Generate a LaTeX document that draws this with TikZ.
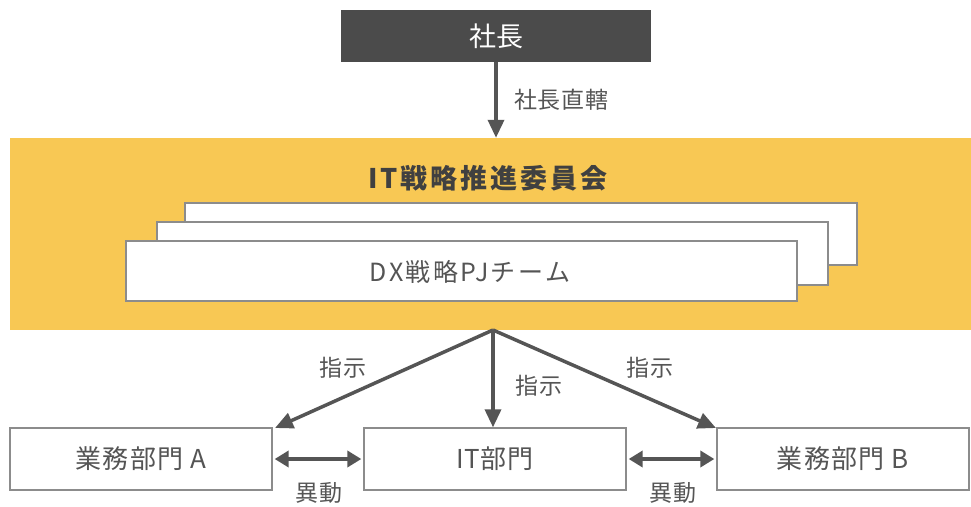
\documentclass[tikz,border=0pt]{standalone}
\usepackage{fontspec}
\setmainfont{Noto Sans CJK JP}
\usetikzlibrary{arrows.meta}
\definecolor{darkbox}{HTML}{4B4B4B}
\definecolor{arrowc}{HTML}{555555}
\definecolor{txtc}{HTML}{555555}
\definecolor{bandc}{HTML}{F8C854}
\definecolor{edgec}{HTML}{8C8C8C}
\begin{document}
\begin{tikzpicture}[x=1pt,y=-1pt,
  wbox/.style={draw=edgec,line width=1.3pt,fill=white,inner sep=0pt},
  arr/.style={draw=arrowc,line width=3.5pt,-{Triangle[width=16pt,length=18pt]}},
  darr/.style={draw=arrowc,line width=4.5pt,{Triangle[width=16pt,length=14pt]}-{Triangle[width=16pt,length=14pt]}},
  lbl/.style={text=txtc,font=\fontsize{23}{27}\selectfont,inner sep=0pt},
  btxt/.style={text=txtc,font=\fontsize{26}{31}\selectfont}
]
\useasboundingbox (0,0) rectangle (971,506);
% president
\node[fill=darkbox,minimum width=310pt,minimum height=52pt,inner sep=0pt,text=white,font=\fontsize{27}{32}\selectfont] (pres) at (496,36) {社長};
% band
\node[fill=bandc,minimum width=961pt,minimum height=192pt,inner sep=0pt] (band) at (490.5,234) {};
\node[text=black!75,font=\fontsize{27}{32}\selectfont\bfseries] (title) at (488,178) {\addfontfeature{LetterSpace=11}IT戦略推進委員会};
% stacked team boxes
\node[wbox,minimum width=672pt,minimum height=62pt] (back) at (521,234) {};
\node[wbox,minimum width=671pt,minimum height=63pt] (mid) at (492.5,253.5) {};
\node[wbox,minimum width=671pt,minimum height=60pt] (front) at (461.5,271) {};
\node[text=txtc,font=\fontsize{25}{30}\selectfont,inner sep=0pt] (fronttxt) at (470,272) {\addfontfeature{LetterSpace=10}DX戦略PJチーム};
% departments
\node[wbox,minimum width=262pt,minimum height=62pt,btxt] (A) at (141,459) {\addfontfeature{LetterSpace=5}業務部門\ A};
\node[wbox,minimum width=262pt,minimum height=62pt,btxt] (IT) at (495,459) {\addfontfeature{LetterSpace=3}IT部門};
\node[wbox,minimum width=252pt,minimum height=62pt,btxt] (B) at (843,459) {\addfontfeature{LetterSpace=5}業務部門\ B};
% top arrow
\coordinate (bandtop) at (pres.south |- band.north);
\draw[arr] (pres.south) -- (bandtop);
\node[lbl,anchor=west] (l0) at (514,100) {\addfontfeature{LetterSpace=3}社長直轄};
% instruction arrows
\coordinate (hub) at (493,330);
\coordinate (Atip) at (275,428);
\coordinate (Btip) at (716,428);
\draw[arr] (hub) -- (Atip);
\draw[arr] (hub) -- (IT.north -| hub);
\draw[arr] (hub) -- (Btip);
\node[lbl] (l1) at (343,368) {\addfontfeature{LetterSpace=3}指示};
\node[lbl] (l2) at (539,386) {\addfontfeature{LetterSpace=3}指示};
\node[lbl] (l3) at (650,368) {\addfontfeature{LetterSpace=3}指示};
% transfer arrows
\draw[darr] ([xshift=2pt]A.east) -- ([xshift=-2pt]IT.west);
\draw[darr] ([xshift=2pt]IT.east) -- ([xshift=-2pt]B.west);
\node[lbl] (m1) at (319,493) {\addfontfeature{LetterSpace=3}異動};
\node[lbl] (m2) at (673,493) {\addfontfeature{LetterSpace=3}異動};
\end{tikzpicture}
\end{document}
